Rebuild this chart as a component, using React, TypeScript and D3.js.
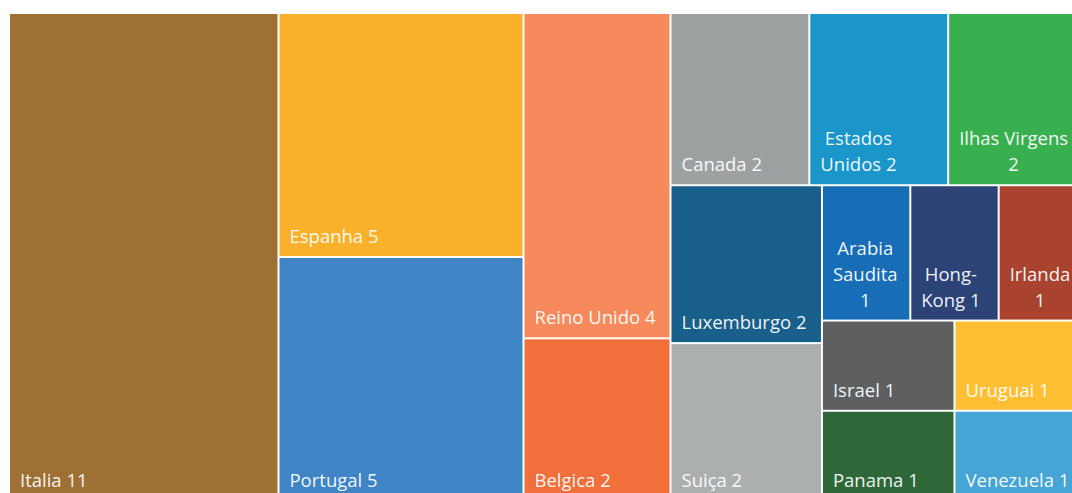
import { useMemo } from 'react';
import * as d3 from 'd3';

// countries sorted by count, ties alphabetical (same order the visual uses)
const countries = [
  'Italia', 'Espanha', 'Portugal', 'Reino Unido', 'Belgica', 'Canada',
  'Estados Unidos', 'Ilhas Virgens', 'Luxemburgo', 'Suiça', 'Arabia Saudita',
  'Hong-Kong', 'Irlanda', 'Israel', 'Panama', 'Uruguai', 'Venezuela'
];
const counts = [11, 5, 5, 4, 2, 2, 2, 2, 2, 2, 1, 1, 1, 1, 1, 1, 1];
const tileColors = [
  '#9E7033', '#F9B12B', '#3F84C5', '#F68A5C', '#F06F3B', '#9EA1A2',
  '#1A96CB', '#39B04F', '#185F8B', '#ABAFB0', '#186DB7',
  '#2C4378', '#A9432F', '#5E5F61', '#2E6839', '#FEBF35', '#45A5D5'
];

const width = 1072;
const height = 493;
const margin = { top: 14, left: 10 };
const mapW = 1076;
const mapH = 486;

const FONT_SIZE = 18.5;
const LINE_H = 26;
const FONT = `${FONT_SIZE}px "Open Sans", "Noto Sans", sans-serif`;

// squarified rows, scored against a preferred width/height of the tiles
const TARGET = 0.79;
const tile = (parent, x0, y0, x1, y1) => {
  const nodes = parent.children;
  let value = parent.value;
  let i0 = 0;
  while (i0 < nodes.length) {
    const dx = x1 - x0, dy = y1 - y0;
    const column = dx >= dy;
    const score = (end) => {
      const row = nodes.slice(i0, end);
      const s = d3.sum(row, d => d.value);
      let worst = 0;
      row.forEach(d => {
        const r = column
          ? (dx * s / value) / (dy * d.value / s)
          : (dx * d.value / s) / (dy * s / value);
        worst = Math.max(worst, r / TARGET, TARGET / r);
      });
      return worst;
    };
    let i1 = i0 + 1;
    let best = score(i1);
    while (i1 < nodes.length) {
      const next = score(i1 + 1);
      if (next > best) break;
      best = next;
      i1++;
    }
    const children = nodes.slice(i0, i1);
    const s = d3.sum(children, d => d.value);
    const row = { children, value: s };
    if (column) {
      const xm = x0 + dx * s / value;
      d3.treemapSlice(row, x0, y0, xm, y1);
      x0 = xm;
    } else {
      const ym = y0 + dy * s / value;
      d3.treemapDice(row, x0, y0, x1, ym);
      y0 = ym;
    }
    value -= s;
    i0 = i1;
  }
};

let ctx = null;
const measure = (t) => {
  if (!ctx) {
    ctx = document.createElement('canvas').getContext('2d');
    ctx.font = FONT;
  }
  return ctx.measureText(t).width;
};

// greedy wrap on spaces and after hyphens
const wrap = (text, maxW) => {
  const parts = text.match(/[^\s-]+-?/g) || [];
  const lines = [];
  let cur = '';
  parts.forEach(p => {
    const glue = cur && !cur.endsWith('-') ? ' ' : '';
    const trial = cur + glue + p;
    if (cur && measure(trial) > maxW) {
      lines.push(cur);
      cur = p;
    } else {
      cur = trial;
    }
  });
  if (cur) lines.push(cur);
  return lines;
};

export default function App() {
  const leaves = useMemo(() => {
    const root = d3.hierarchy({
      children: countries.map((name, i) => ({ name, value: counts[i], color: tileColors[i] }))
    }).sum(d => d.value || 0);
    d3.treemap().size([mapW, mapH]).paddingInner(2).tile(tile)(root);
    return root.leaves();
  }, []);

  return (
    <svg width={width} height={height}
      style={{ position: 'absolute', left: 0, top: 0, display: 'block', background: '#fff' }}>
      <g transform={`translate(${margin.left},${margin.top})`}>
        {leaves.map(d => {
          const w = d.x1 - d.x0;
          const label = `${d.data.name} ${d.data.value}`;
          const lines = wrap(label, w - 20);
          const blockW = d3.max(lines, l => measure(l));
          const cx = d.x0 + 10 + blockW / 2;
          const base = d.y1 - 13;
          return (
            <g key={d.data.name}>
              <rect x={d.x0} y={d.y0} width={w} height={d.y1 - d.y0} fill={d.data.color} />
              <text fill="#fff" fillOpacity={0.95} fontFamily='"Open Sans", "Noto Sans", sans-serif'
                fontSize={FONT_SIZE} textAnchor="middle">
                {lines.map((l, i) => (
                  <tspan key={i} x={cx} y={base - (lines.length - 1 - i) * LINE_H}>{l}</tspan>
                ))}
              </text>
            </g>
          );
        })}
      </g>
    </svg>
  );
}
